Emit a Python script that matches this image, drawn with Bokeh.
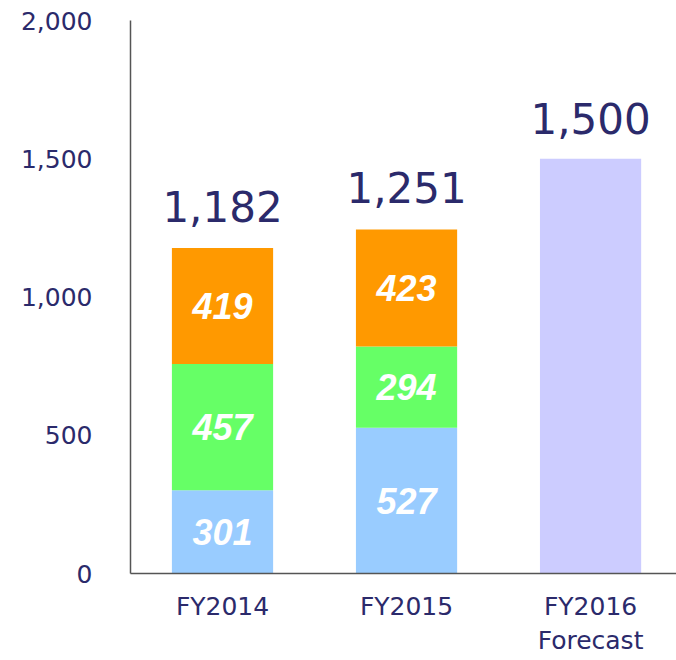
from bokeh.plotting import figure
from bokeh.models import ColumnDataSource, Range1d, FixedTicker
from bokeh.core.properties import value
from bokeh.embed import file_html
from bokeh.resources import INLINE

categories = ["FY2014", "FY2015", "FY2016\nForecast"]
seg_blue = [301, 527, 0]
seg_green = [457, 294, 0]
seg_orange = [419, 423, 0]
forecast = [0, 0, 1500]
totals = [1182, 1251, 1500]
y_ticks = [0, 500, 1000, 1500, 2000]

NAVY = "#2B2A6B"
colors = ["#99CCFF", "#66FF66", "#FF9900", "#CCCCFF"]

xs = list(range(len(categories)))
src = ColumnDataSource(dict(x=xs, blue=seg_blue, green=seg_green,
                            orange=seg_orange, fc=forecast))

p = figure(width=676, height=660, output_backend="svg", toolbar_location=None,
           x_range=Range1d(-0.5, 2.467), y_range=Range1d(0, 2000),
           min_border_left=130, min_border_right=0, min_border_top=20,
           min_border_bottom=87)
p.outline_line_color = None
p.xgrid.visible = False
p.ygrid.visible = False

p.vbar_stack(["blue", "green", "orange", "fc"], x="x", width=0.55,
             color=colors, line_color=None, source=src)

# inner segment labels
lx, ly, lt = [], [], []
for i in xs:
    base = 0
    for seg in (seg_blue, seg_green, seg_orange):
        v = seg[i]
        if v > 0:
            lx.append(i)
            ly.append(base + v / 2)
            lt.append(str(v))
        base += v
lsrc = ColumnDataSource(dict(x=lx, y=ly, t=lt))
p.text(x="x", y="y", text="t", source=lsrc, text_color="white",
       text_font=value("'Liberation Sans Narrow', 'Liberation Sans'"),
       text_font_style="bold italic", text_font_size="36px",
       text_align="center", text_baseline="middle")

# totals
tsrc = ColumnDataSource(dict(x=xs, y=totals, t=[f"{v:,}" for v in totals]))
p.text(x="x", y="y", text="t", source=tsrc, text_color=NAVY,
       text_font=value("DejaVu Sans"), text_font_size="42px",
       text_align="center", text_baseline="alphabetic", y_offset=-40)

# axes
for ax in (p.xaxis[0], p.yaxis[0]):
    ax.axis_line_color = "#555555"
    ax.axis_line_width = 1.5
    ax.major_tick_line_color = None
    ax.minor_tick_line_color = None
    ax.major_label_text_color = NAVY
    ax.major_label_text_font = "DejaVu Sans"
    ax.major_label_text_font_size = "25px"

p.yaxis.ticker = FixedTicker(ticks=y_ticks)
p.yaxis.major_label_overrides = {t: f"{t:,}" for t in y_ticks}
p.yaxis.major_label_standoff = 32

p.xaxis.ticker = FixedTicker(ticks=xs)
p.xaxis.major_label_overrides = {i: c for i, c in zip(xs, categories)}
p.xaxis.major_label_standoff = 12

open("out.html", "w").write(file_html(p, INLINE))
